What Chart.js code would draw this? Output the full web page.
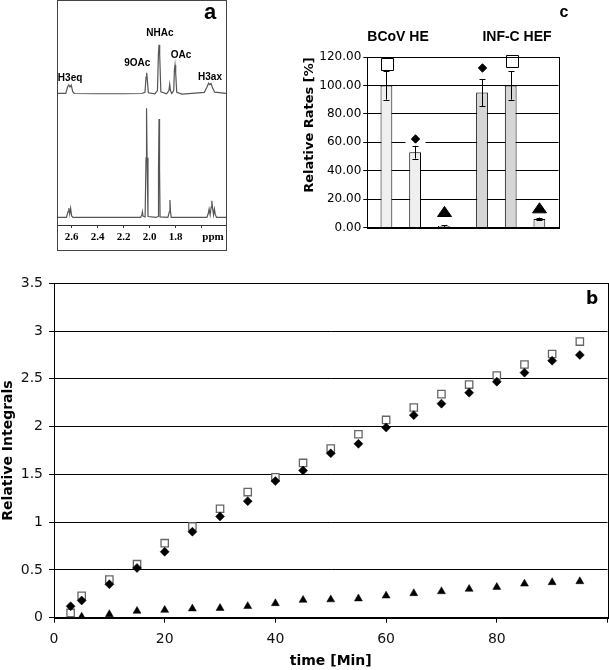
<!DOCTYPE html>
<html>
<head>
<meta charset="utf-8">
<script src="https://cdn.jsdelivr.net/npm/chart.js@4.4.1/dist/chart.umd.min.js"></script>
<style>
  body { margin: 0; width: 609px; height: 670px; position: relative; background: #fff; overflow: hidden; }
  .panel { position: absolute; }
</style>
</head>
<body>
<div class="panel" style="left:57px;top:0;width:170px;height:251px;border:1px solid #444;box-sizing:border-box"><canvas id="nmr"></canvas></div>
<div class="panel" style="left:290px;top:0;width:319px;height:250px"><canvas id="rates"></canvas></div>
<div class="panel" style="left:0;top:250px;width:609px;height:420px"><canvas id="kinetics"></canvas></div>
<script>
// ===== panel b : kinetics =====
const times = [3, 5, 10, 15, 20, 25, 30, 35, 40, 45, 50, 55, 60, 65, 70, 75, 80, 85, 90, 95];
const openSquares = [0.05, 0.23, 0.40, 0.56, 0.78, 0.955, 1.14, 1.315, 1.47, 1.62, 1.77, 1.92, 2.07, 2.20, 2.34, 2.44, 2.535, 2.65, 2.76, 2.89];
const filledDiamonds = [0.12, 0.18, 0.35, 0.52, 0.69, 0.90, 1.06, 1.22, 1.43, 1.54, 1.72, 1.82, 1.99, 2.12, 2.24, 2.355, 2.47, 2.565, 2.69, 2.75];
const triangles = [null, 0.01, 0.035, 0.07, 0.08, 0.095, 0.10, 0.12, 0.15, 0.185, 0.19, 0.20, 0.23, 0.255, 0.275, 0.30, 0.32, 0.355, 0.37, 0.38];

// ===== panel c : relative rates =====
const groups = ["BCoV HE", "INF-C HEF"];
const rateFirst = [100, 95];
const rateSecond = [53, 100];
const rateThird = [1, 6];
const errFirst = [10, 9.5];
const errSecond = [4.5, 10];
const errThird = [0.6, 1];
const markFirst = [115.3, 112.3];
const markSecond = [62.3, 117];
const markThird = [10.9, 13.5];
const shapeFirst = ["rect", "rectRot"];
const shapeSecond = ["rectRot", "rect"];
const shapeThird = ["triangle", "triangle"];

// ===== panel a : NMR spectra (ppm, intensity) =====
const upperSpectrum = [
  [2.705, 58.8], [2.645, 58.8], [2.632, 61.5], [2.622, 62.5], [2.613, 61.6], [2.603, 62.4], [2.592, 59.5],
  [2.58, 58.7], [2.4, 58.6], [2.2, 58.6], [2.06, 58.7], [2.036, 59.2], [2.028, 66], [2.023, 68.0],
  [2.017, 64], [2.01, 59.0], [1.96, 58.6], [1.94, 60], [1.933, 76], [1.928, 80.4], [1.923, 76],
  [1.914, 59.5], [1.87, 58.6], [1.852, 60], [1.846, 62.8], [1.84, 60], [1.83, 58.7], [1.815, 60],
  [1.81, 69], [1.805, 71.4], [1.8, 68], [1.792, 59.2], [1.75, 58.4], [1.65, 58.9], [1.58, 59.2],
  [1.56, 61.5], [1.547, 63.3], [1.538, 62.7], [1.528, 63.2], [1.515, 61], [1.5, 59.3], [1.413, 58.8]
];
const lowerSpectrum = [
  [2.705, 3.4], [2.64, 3.4], [2.628, 6], [2.622, 7.5], [2.615, 4.9], [2.608, 7.5], [2.6, 4], [2.59, 3.4],
  [2.3, 3.4], [2.07, 3.4], [2.06, 4.5], [2.056, 5.9], [2.051, 4], [2.035, 3.6], [2.028, 30], [2.024, 52.1],
  [2.02, 30], [2.013, 3.8], [1.95, 3.4], [1.935, 3.8], [1.932, 25], [1.928, 47.3], [1.924, 25], [1.92, 3.6],
  [1.86, 3.4], [1.848, 6], [1.844, 11.2], [1.84, 6], [1.834, 3.4], [1.56, 3.4], [1.55, 5], [1.543, 7.1],
  [1.535, 4.5], [1.527, 8], [1.522, 10.8], [1.517, 8], [1.509, 4.5], [1.502, 7.1], [1.495, 4.5],
  [1.485, 3.4], [1.413, 3.4]
];
const peakNames = ["H3eq", "9OAc", "NHAc", "OAc", "H3ax"];
const peakPpm = [2.612, 2.095, 1.921, 1.759, 1.536];
const peakLevel = [65.5, 72.2, 85.6, 75.6, 65.9];
const ppmTicks = [2.6, 2.4, 2.2, 2.0, 1.8, 1.6];
const ppmLabels = [2.6, 2.4, 2.2, 2.0, 1.8];

Chart.defaults.animation = false;
Chart.defaults.layout.autoPadding = false;
Chart.defaults.plugins.legend.display = false;
Chart.defaults.plugins.tooltip.enabled = false;

// 枠線
const framePlugin = {
  id: "frame",
  afterDraw(chart) {
    const a = chart.chartArea, ctx = chart.ctx;
    ctx.save();
    ctx.strokeStyle = "#000";
    ctx.lineWidth = 1;
    ctx.strokeRect(Math.round(a.left) + 0.5, Math.round(a.top) + 0.5,
      Math.round(a.right) - Math.round(a.left), Math.round(a.bottom) - Math.round(a.top));
    ctx.restore();
  }
};

// 文字
function textPlugin(items) {
  return {
    id: "texts",
    afterDraw(chart) {
      const ctx = chart.ctx;
      items.forEach(t => {
        ctx.save();
        ctx.fillStyle = "#000";
        ctx.font = t.font;
        ctx.textAlign = "center";
        ctx.textBaseline = "middle";
        ctx.translate(t.x, t.y);
        if (t.rot) ctx.rotate(t.rot);
        ctx.fillText(t.text, 0, 0);
        ctx.restore();
      });
    }
  };
}

function toXY(xs, ys) {
  return xs.map((x, i) => ({ x: x, y: ys[i] }));
}

function fixX(h) {
  return s => { s.height = h; };
}

// ===== panel a =====
new Chart(document.getElementById("nmr"), {
  type: "line",
  data: {
    datasets: [
      { data: upperSpectrum.map(p => ({ x: p[0], y: p[1] })), borderColor: "#555", borderWidth: 1.2, pointRadius: 0, tension: 0 },
      { data: lowerSpectrum.map(p => ({ x: p[0], y: p[1] })), borderColor: "#555", borderWidth: 1.2, pointRadius: 0, tension: 0 }
    ]
  },
  options: {
    responsive: true,
    maintainAspectRatio: false,
    layout: { padding: 0 },
    scales: {
      x: {
        type: "linear", reverse: true, min: 1.413, max: 2.705,
        afterBuildTicks: s => { s.ticks = ppmTicks.map(v => ({ value: v })); },
        afterFit: fixX(25),
        ticks: {
          autoSkip: false, maxRotation: 0, padding: 0, color: "#000",
          font: { family: "Liberation Serif", size: 11, weight: "bold", lineHeight: 1.64 },
          callback: v => ppmLabels.includes(v) ? v.toFixed(1) : ""
        },
        grid: { drawOnChartArea: false, tickLength: 3, color: "#333" },
        border: { color: "#333" }
      },
      y: { display: false, min: 0, max: 100 }
    }
  },
  plugins: [{
    id: "peaks",
    afterDraw(chart) {
      const ctx = chart.ctx, xs = chart.scales.x, ys = chart.scales.y;
      ctx.save();
      ctx.fillStyle = "#000";
      ctx.textAlign = "center";
      ctx.textBaseline = "middle";
      ctx.font = "bold 10px 'Liberation Sans'";
      peakNames.forEach((n, i) => {
        ctx.fillText(n, xs.getPixelForValue(peakPpm[i]), ys.getPixelForValue(peakLevel[i]));
      });
      ctx.font = "bold 11px 'Liberation Serif'";
      ctx.fillText("ppm", 155, 236);
      ctx.font = "bold 22px 'Liberation Sans'";
      ctx.fillText("a", 152, 12);
      ctx.restore();
    }
  }]
});

// ===== panel c =====
function drawMark(ctx, shape, x, y) {
  ctx.beginPath();
  if (shape === "rect") {
    ctx.rect(Math.round(x - 6) + 0.5, Math.round(y - 6) + 0.5, 12, 12);
    ctx.fillStyle = "#fff";
  } else if (shape === "rectRot") {
    ctx.moveTo(x, y - 4.2); ctx.lineTo(x + 4.2, y); ctx.lineTo(x, y + 4.2); ctx.lineTo(x - 4.2, y);
    ctx.closePath();
    ctx.fillStyle = "#000";
  } else {
    ctx.moveTo(x, y - 5.5); ctx.lineTo(x + 7, y + 4.5); ctx.lineTo(x - 7, y + 4.5);
    ctx.closePath();
    ctx.fillStyle = "#000";
  }
  ctx.fill();
  ctx.strokeStyle = "#000";
  ctx.lineWidth = 1;
  ctx.stroke();
}

const errorPlugin = {
  id: "errs",
  afterDatasetsDraw(chart) {
    const ctx = chart.ctx, ys = chart.scales.y;
    ctx.save();
    chart.data.datasets.forEach((ds, i) => {
      chart.getDatasetMeta(i).data.forEach((bar, j) => {
        const x = Math.round(bar.x) + 0.5;
        const top = ys.getPixelForValue(ds.data[j] + ds.errors[j]);
        const bot = ys.getPixelForValue(ds.data[j] - ds.errors[j]);
        ctx.strokeStyle = "#000";
        ctx.lineWidth = 1;
        ctx.beginPath();
        ctx.moveTo(x, top); ctx.lineTo(x, bot);
        ctx.moveTo(x - 3, Math.round(top) + 0.5); ctx.lineTo(x + 3, Math.round(top) + 0.5);
        ctx.moveTo(x - 3, Math.round(bot) + 0.5); ctx.lineTo(x + 3, Math.round(bot) + 0.5);
        ctx.stroke();
        const my = ys.getPixelForValue(ds.marks[j]);
        ctx.fillStyle = "#fff";
        ctx.fillRect(x - 10, my - 5, 20, 10);
        drawMark(ctx, ds.shapes[j], x, my);
      });
    });
    ctx.restore();
  }
};

new Chart(document.getElementById("rates"), {
  type: "bar",
  data: {
    labels: groups,
    datasets: [
      { data: rateFirst, errors: errFirst, marks: markFirst, shapes: shapeFirst, backgroundColor: ["#efefef", "#d6d6d6"] },
      { data: rateSecond, errors: errSecond, marks: markSecond, shapes: shapeSecond, backgroundColor: ["#efefef", "#d6d6d6"] },
      { data: rateThird, errors: errThird, marks: markThird, shapes: shapeThird, backgroundColor: ["#efefef", "#e6e6e6"] }
    ].map(d => Object.assign(d, { borderColor: "#000", borderWidth: 1, barPercentage: 0.41, categoryPercentage: 0.9 }))
  },
  options: {
    responsive: true,
    maintainAspectRatio: false,
    layout: { padding: { top: 57, right: 50.5, left: 0, bottom: 0 } },
    scales: {
      x: {
        grid: { display: false },
        ticks: { display: false },
        border: { color: "#000" },
        afterFit: fixX(22.5)
      },
      y: {
        min: 0, max: 120,
        ticks: {
          stepSize: 20, padding: 2, color: "#000",
          font: { family: "DejaVu Sans", size: 12 },
          callback: v => v.toFixed(2)
        },
        grid: { color: "#000", tickLength: 4 },
        border: { color: "#000" },
        afterFit: s => { s.width = 77.3; }
      }
    }
  },
  plugins: [framePlugin, errorPlugin, textPlugin([
    { text: "Relative Rates [%]", x: 20, y: 125, rot: -Math.PI / 2, font: "bold 13px 'DejaVu Sans'" },
    { text: "BCoV HE", x: 108, y: 37, font: "bold 14px 'Liberation Sans'" },
    { text: "INF-C HEF", x: 227, y: 37, font: "bold 14px 'Liberation Sans'" },
    { text: "c", x: 274, y: 13, font: "bold 16px 'Liberation Sans'" }
  ])]
});

// ===== panel b =====
new Chart(document.getElementById("kinetics"), {
  type: "scatter",
  data: {
    datasets: [
      { data: toXY(times, filledDiamonds), pointStyle: "rectRot", pointRadius: 4.5, backgroundColor: "#000", borderColor: "#000", borderWidth: 0.5, order: 0 },
      { data: toXY(times, openSquares), pointStyle: "rect", pointRadius: 5.2, backgroundColor: "#fff", borderColor: "#666", borderWidth: 1.3, order: 1 },
      { data: toXY(times, triangles), pointStyle: "triangle", pointRadius: 4.6, backgroundColor: "#000", borderColor: "#000", borderWidth: 0.5, order: 2 }
    ]
  },
  options: {
    responsive: true,
    maintainAspectRatio: false,
    layout: { padding: { top: 33.3, right: 1.5, left: 0, bottom: 0 } },
    scales: {
      x: {
        type: "linear", min: 0, max: 100,
        ticks: {
          stepSize: 20, padding: 0, maxRotation: 0, color: "#111",
          font: { family: "DejaVu Sans", size: 14, lineHeight: 2.33 },
          callback: v => v === 100 ? "" : v
        },
        grid: { drawOnChartArea: false, tickLength: 5, color: "#000" },
        border: { color: "#000" },
        title: { display: true, text: "time [Min]", color: "#000", padding: { top: 0, bottom: 0 },
          font: { family: "DejaVu Sans", size: 14, weight: "bold" } },
        afterFit: fixX(52.3)
      },
      y: {
        min: 0, max: 3.5,
        ticks: { stepSize: 0.5, padding: 6, color: "#111", font: { family: "DejaVu Sans", size: 14 }, callback: v => String(v) },
        grid: { color: "#000", tickLength: 5 },
        border: { color: "#000" },
        title: { display: true, text: "Relative Integrals", color: "#000", padding: { top: 0, bottom: 0 },
          font: { family: "DejaVu Sans", size: 14, weight: "bold" } },
        afterFit: s => { s.width = 54; }
      }
    }
  },
  plugins: [framePlugin, textPlugin([
    { text: "b", x: 592, y: 50, font: "bold 17px 'DejaVu Sans'" }
  ])]
});
</script>
</body>
</html>
